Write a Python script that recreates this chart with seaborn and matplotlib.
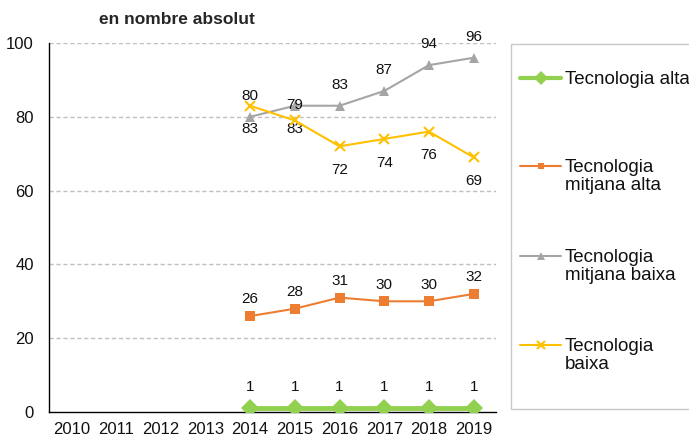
import numpy as np
import pandas as pd
import matplotlib
matplotlib.use("Agg")
import matplotlib.pyplot as plt
from matplotlib.lines import Line2D
from matplotlib.patches import Rectangle
import seaborn as sns

# dades
years = [2010, 2011, 2012, 2013, 2014, 2015, 2016, 2017, 2018, 2019]
data_years = [2014, 2015, 2016, 2017, 2018, 2019]
series_names = ["Tecnologia alta", "Tecnologia\nmitjana alta",
                "Tecnologia\nmitjana baixa", "Tecnologia\nbaixa"]
alta = [1, 1, 1, 1, 1, 1]
mitjana_alta = [26, 28, 31, 30, 30, 32]
mitjana_baixa = [80, 83, 83, 87, 94, 96]
baixa = [83, 79, 72, 74, 76, 69]
# etiquetes tal com surten al gràfic original
labels_mitjana_baixa = ["80", "83", "83", "87", "94", "96"]
labels_baixa = ["83", "79", "72", "74", "76", "69"]

sns.set_theme(style="white")
plt.rcParams['font.family'] = ['Liberation Sans', 'DejaVu Sans']

colors = ["#92D050", "#ED7D31", "#A5A5A5", "#FFC000"]
markers = ["D", "s", "^", "x"]
msizes = [9, 6.5, 7.5, 7.5]
lwidths = [3.5, 1.5, 1.5, 1.5]
values = [alta, mitjana_alta, mitjana_baixa, baixa]
texts = [[str(v) for v in alta], [str(v) for v in mitjana_alta],
         labels_mitjana_baixa, labels_baixa]
# desplaçament vertical de les etiquetes (punts)
offsets = [[15] * 6, [12] * 6,
           [15, -17, 15, 15, 15, 15],
           [-17, 11, -17, -17, -17, -17]]

fig = plt.figure(figsize=(6.89, 4.41), dpi=100)
ax = fig.add_axes([49 / 689, 1 - 412 / 441, (496 - 49) / 689, (412 - 43) / 441])

draw_order = [2, 3, 1, 0]
for i in draw_order:
    df = pd.DataFrame({"any": data_years, "valor": values[i]})
    sns.lineplot(data=df, x="any", y="valor", ax=ax, color=colors[i],
                 linewidth=lwidths[i], marker=markers[i], markersize=msizes[i],
                 markeredgecolor=colors[i], markeredgewidth=1.5 if markers[i] == "x" else 0,
                 zorder=3, legend=False)
    for x, y, t, dy in zip(data_years, values[i], texts[i], offsets[i]):
        ax.annotate(t, (x, y), xytext=(0, dy), textcoords="offset points",
                    ha="center", va="center", fontsize=11, color="#111111")

ax.set_xlim(2009.5, 2019.5)
ax.set_ylim(0, 100)
ax.set_xticks(years)
ax.set_xticklabels([str(y) for y in years], fontsize=12, color="#111111")
ax.set_xticks(np.arange(2009.5, 2020, 1), minor=True)
ax.set_yticks([0, 20, 40, 60, 80, 100])
ax.tick_params(axis="x", which="major", length=0, pad=7)
ax.tick_params(axis="x", which="minor", length=5, width=1, direction="out", color="black")
ax.tick_params(axis="y", length=5, width=1, direction="out", color="black",
               labelsize=12, labelcolor="#111111", pad=6)
ax.set_xlabel("")
ax.set_ylabel("")
for y in [20, 40, 60, 80, 100]:
    ax.axhline(y, color="#BFBFBF", linestyle=(0, (3, 2)), linewidth=1, zorder=1)
sns.despine(ax=ax)
ax.spines["left"].set_color("black")
ax.spines["bottom"].set_color("black")
ax.spines["left"].set_linewidth(1)
ax.spines["bottom"].set_linewidth(1)

fig.text(177 / 689, 1 - 20 / 441, "en nombre absolut", ha="center", va="center",
         fontsize=12.5, fontweight="bold")

# llegenda a mà
fig.patches.append(Rectangle((511 / 689, 1 - 409 / 441), 300 / 689, (409 - 44) / 441,
                             transform=fig.transFigure, facecolor="white",
                             edgecolor="#C8C8C8", linewidth=1))
entry_y = [78, 166, 256, 345]
for i, yy in enumerate(entry_y):
    yf = 1 - yy / 441
    fig.lines.append(Line2D([520 / 689, 561 / 689], [yf, yf], transform=fig.transFigure,
                            color=colors[i], linewidth=lwidths[i] if i else 3))
    fig.lines.append(Line2D([540.5 / 689], [yf], transform=fig.transFigure,
                            color=colors[i], marker=markers[i], markersize=msizes[i] - 2,
                            markeredgecolor=colors[i],
                            markeredgewidth=1.5 if markers[i] == "x" else 0))
    fig.text(565 / 689, yf + 7 / 441, series_names[i], ha="left", va="top",
             fontsize=13.5, linespacing=1.1, color="#111111")

fig.savefig("out.png", dpi=100)
